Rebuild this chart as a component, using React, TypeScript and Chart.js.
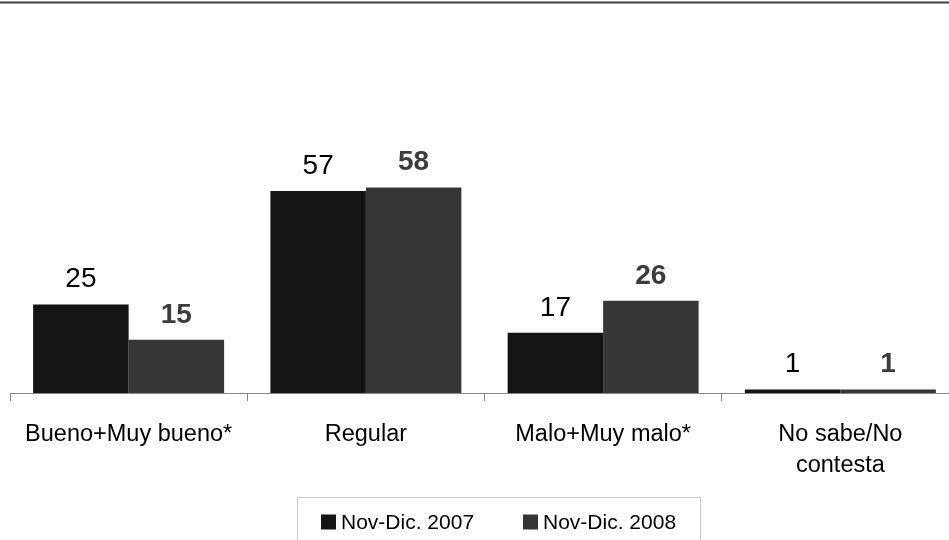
import React, { useEffect, useRef } from "react";
import { Chart, registerables } from "chart.js";

Chart.register(...registerables);

const categories: (string | string[])[] = [
  "Bueno+Muy bueno*",
  "Regular",
  "Malo+Muy malo*",
  ["No sabe/No", "contesta"],
];
const seriesNames = ["Nov-Dic. 2007", "Nov-Dic. 2008"];
const values2007 = [25, 57, 17, 1];
const values2008 = [15, 58, 26, 1];
const barColors = ["#141414", "#363636"];
const labelColors = ["#000000", "#3c3c3c"];
const labelWeights = ["normal", "bold"];

const FONT = "'Liberation Sans', Arial, Helvetica, sans-serif";

const decorPlugin = {
  id: "decor",
  beforeDraw(chart: any) {
    const ctx = chart.ctx;
    ctx.save();
    ctx.fillStyle = "#ffffff";
    ctx.fillRect(0, 0, chart.width, chart.height);
    ctx.fillStyle = "#9a9a9a";
    ctx.fillRect(0, 1, chart.width, 1);
    ctx.fillRect(0, 3, chart.width, 1);
    ctx.fillStyle = "#444444";
    ctx.fillRect(0, 2, chart.width, 1);
    ctx.restore();
  },
  afterDatasetsDraw(chart: any) {
    const ctx = chart.ctx;
    ctx.save();
    ctx.textAlign = "center";
    ctx.textBaseline = "alphabetic";
    chart.data.datasets.forEach((ds: any, i: number) => {
      const meta = chart.getDatasetMeta(i);
      ctx.font = `${labelWeights[i]} 28px ${FONT}`;
      ctx.fillStyle = labelColors[i];
      meta.data.forEach((el: any, j: number) => {
        ctx.fillText(String(ds.data[j]), el.x, el.y - 17);
      });
    });
    ctx.restore();
  },
  afterDraw(chart: any) {
    const ctx = chart.ctx;
    ctx.save();
    ctx.strokeStyle = "#c8c8c8";
    ctx.lineWidth = 1;
    ctx.strokeRect(297.5, 497.5, 403, 80);
    const itemX = [321, 523];
    ctx.font = `21px ${FONT}`;
    ctx.textAlign = "left";
    ctx.textBaseline = "alphabetic";
    chart.data.datasets.forEach((ds: any, i: number) => {
      ctx.fillStyle = ds.backgroundColor;
      ctx.fillRect(itemX[i], 514.5, 15, 15);
      ctx.fillStyle = "#000000";
      ctx.fillText(ds.label, itemX[i] + 20, 528.5);
    });
    ctx.restore();
  },
};

export default function App() {
  const ref = useRef<HTMLCanvasElement | null>(null);

  useEffect(() => {
    if (!ref.current) return;
    const chart = new Chart(ref.current, {
      type: "bar",
      data: {
        labels: categories,
        datasets: [
          {
            label: seriesNames[0],
            data: values2007,
            backgroundColor: barColors[0],
            borderWidth: 0,
            categoryPercentage: 0.805,
            barPercentage: 1,
          },
          {
            label: seriesNames[1],
            data: values2008,
            backgroundColor: barColors[1],
            borderWidth: 0,
            categoryPercentage: 0.805,
            barPercentage: 1,
          },
        ],
      },
      options: {
        responsive: false,
        animation: false,
        devicePixelRatio: 1,
        layout: { padding: { top: 38.5, left: 10, right: 10, bottom: 47 } },
        plugins: {
          legend: { display: false },
          tooltip: { enabled: false },
          title: { display: false },
        },
        scales: {
          x: {
            offset: true,
            grid: {
              offset: true,
              drawOnChartArea: false,
              drawTicks: true,
              tickLength: 8,
              color: "#868686",
              lineWidth: 1,
            },
            border: { display: true, color: "#868686", width: 1 },
            ticks: {
              color: "#000000",
              font: { family: FONT, size: 23.5, lineHeight: 1.33 },
              padding: 18,
              autoSkip: false,
              maxRotation: 0,
              minRotation: 0,
            },
            afterFit(scale: any) {
              scale.height = 100;
              scale.paddingLeft = 0;
              scale.paddingRight = 0;
            },
          },
          y: {
            display: false,
            min: 0,
            max: 100,
          },
        },
      },
      plugins: [decorPlugin],
    } as any);
    return () => chart.destroy();
  }, []);

  return (
    <div
      style={{
        position: "absolute",
        left: 0,
        top: 0,
        width: 949,
        height: 540,
        overflow: "hidden",
        background: "#ffffff",
      }}
    >
      <canvas ref={ref} width={969} height={540} style={{ width: 969, height: 540, display: "block" }} />
    </div>
  );
}
